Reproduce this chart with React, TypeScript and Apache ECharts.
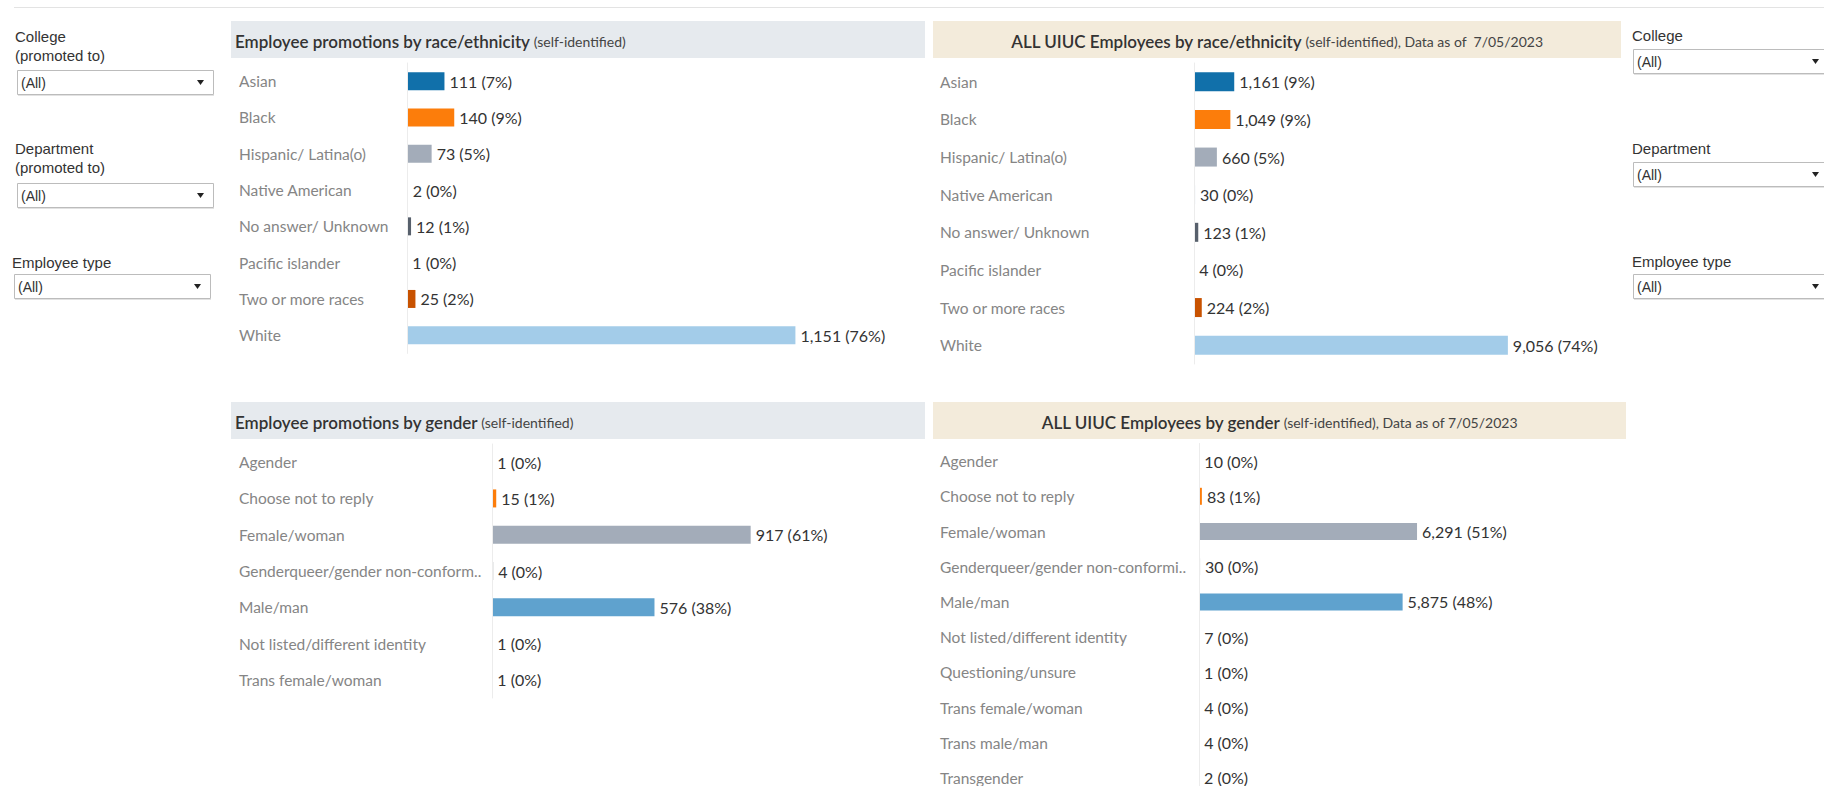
import React, { useEffect, useRef } from "react";
import * as echarts from "echarts";

// ---------- data ----------
const raceCategories = [
  "Asian",
  "Black",
  "Hispanic/ Latina(o)",
  "Native American",
  "No answer/ Unknown",
  "Pacific islander",
  "Two or more races",
  "White",
];
const racePromotions = [111, 140, 73, 2, 12, 1, 25, 1151];
const raceAllEmployees = [1161, 1049, 660, 30, 123, 4, 224, 9056];
const raceColors = ["#1170aa", "#fc7d0b", "#a3acb9", "#5fa2ce", "#57606c", "#7b848f", "#c85200", "#a3cce9"];

const genderPromoCategories = [
  "Agender",
  "Choose not to reply",
  "Female/woman",
  "Genderqueer/gender non-conform..",
  "Male/man",
  "Not listed/different identity",
  "Trans female/woman",
];
const genderPromotions = [1, 15, 917, 4, 576, 1, 1];
const genderPromoColors = ["#1170aa", "#fc7d0b", "#a3acb9", "#57606c", "#5fa2ce", "#c85200", "#7b848f"];

const genderAllCategories = [
  "Agender",
  "Choose not to reply",
  "Female/woman",
  "Genderqueer/gender non-conformi..",
  "Male/man",
  "Not listed/different identity",
  "Questioning/unsure",
  "Trans female/woman",
  "Trans male/man",
  "Transgender",
];
const genderAllEmployees = [10, 83, 6291, 30, 5875, 7, 1, 4, 4, 2];
const genderAllColors = ["#1170aa", "#fc7d0b", "#a3acb9", "#57606c", "#5fa2ce", "#c85200", "#7b848f", "#a3cce9", "#ffbc79", "#c8d0d9"];

const leftFilters = [
  { lines: ["College", "(promoted to)"] },
  { lines: ["Department", "(promoted to)"] },
  { lines: ["Employee type"] },
];
const rightFilters = ["College", "Department", "Employee type"];

// ---------- helpers ----------
const FONT = "Lato, 'Open Sans', sans-serif";
const FILTER_FONT = "'Liberation Sans', Arial, sans-serif";

function fmt(v: number) {
  return v.toLocaleString("en-US");
}

function makeSeries(values: number[], colors: string[], idx: number, barWidth: number) {
  const total = values.reduce((a, b) => a + b, 0);
  return {
    type: "bar",
    xAxisIndex: idx,
    yAxisIndex: idx,
    barWidth,
    z: 2,
    data: values.map((v, i) => ({ value: v, itemStyle: { color: colors[i] } })),
    label: {
      show: true,
      position: "right",
      distance: 5,
      color: "#333333",
      fontFamily: FONT,
      fontSize: 16,
      formatter: (p: any) => `${fmt(p.value)} (${Math.round((p.value / total) * 100)}%)`,
    },
  };
}

function yAxisFor(cats: string[], idx: number, margin: number) {
  return {
    type: "category",
    gridIndex: idx,
    data: cats,
    inverse: true,
    z: 5,
    axisTick: { show: false },
    axisLine: { show: true, lineStyle: { color: "#ececec", width: 1 } },
    axisLabel: {
      interval: 0,
      align: "left",
      margin,
      color: "#858585",
      fontFamily: FONT,
      fontSize: 15.5,
    },
    splitLine: { show: false },
  };
}

function xAxisFor(idx: number, max: number) {
  return {
    type: "value",
    gridIndex: idx,
    min: 0,
    max,
    show: false,
    splitLine: { show: false },
  };
}

function dropdown(x: number, y: number, w: number) {
  const h = 24;
  return [
    {
      type: "rect",
      shape: { x: x + 0.5, y: y + 0.5, width: w, height: h },
      style: { fill: "#ffffff", stroke: "#bcbcbc", lineWidth: 1 },
    },
    {
      type: "line",
      shape: { x1: x + 1, y1: y + h + 1.5, x2: x + w + 1, y2: y + h + 1.5 },
      style: { stroke: "#e2e2e2", lineWidth: 1 },
    },
    {
      type: "text",
      style: {
        text: "(All)",
        x: x + 4,
        y: y + h / 2 + 1,
        fill: "#333333",
        fontFamily: FILTER_FONT,
        fontSize: 14,
        verticalAlign: "middle",
        align: "left",
      },
    },
    {
      type: "polygon",
      shape: {
        points: [
          [x + w - 16, y + h / 2 - 2],
          [x + w - 9, y + h / 2 - 2],
          [x + w - 12.5, y + h / 2 + 3],
        ],
      },
      style: { fill: "#222222" },
    },
  ];
}

function filterLabel(text: string, x: number, y: number) {
  return {
    type: "text",
    style: {
      text,
      x,
      y,
      fill: "#333333",
      fontFamily: FILTER_FONT,
      fontSize: 15,
      verticalAlign: "middle",
      align: "left",
    },
  };
}

function header(x: number, y: number, w: number, fill: string, main: string, sub: string, centered: boolean) {
  return [
    {
      type: "rect",
      shape: { x, y, width: w, height: 37 },
      style: { fill },
    },
    {
      type: "text",
      style: {
        text: `{a|${main}} {b|${sub}}`,
        x: centered ? x + w / 2 : x + 4,
        y: y + 20,
        align: centered ? "center" : "left",
        verticalAlign: "middle",
        rich: {
          a: { fontFamily: FONT, fontSize: 17, fontWeight: 600, fill: "#333333", color: "#333333" },
          b: { fontFamily: FONT, fontSize: 14, fill: "#444444", color: "#444444" },
        },
      },
    },
  ];
}

export default function App() {
  const ref = useRef<HTMLDivElement>(null);

  useEffect(() => {
    if (!ref.current) return;
    const chart = echarts.init(ref.current, undefined, { renderer: "svg" });

    const graphics: any[] = [];
    // top rule
    graphics.push({
      type: "line",
      shape: { x1: 14, y1: 7.5, x2: 1824, y2: 7.5 },
      style: { stroke: "#e3e3e3", lineWidth: 1 },
    });

    // headers
    graphics.push(
      ...header(231, 21, 694, "#e6eaee", "Employee promotions by race/ethnicity", "(self-identified)", false),
      ...header(933, 21, 688, "#f3ebdb", "ALL UIUC Employees by race/ethnicity", "(self-identified), Data as of  7/05/2023", true),
      ...header(231, 402, 694, "#e6eaee", "Employee promotions by gender", "(self-identified)", false),
      ...header(933, 402, 693, "#f3ebdb", "ALL UIUC Employees by gender", "(self-identified), Data as of 7/05/2023", true)
    );

    // left filters
    graphics.push(filterLabel(leftFilters[0].lines[0], 15, 36));
    graphics.push(filterLabel(leftFilters[0].lines[1], 15, 55));
    graphics.push(...dropdown(17, 70, 196));
    graphics.push(filterLabel(leftFilters[1].lines[0], 15, 148));
    graphics.push(filterLabel(leftFilters[1].lines[1], 15, 167));
    graphics.push(...dropdown(17, 183, 196));
    graphics.push(filterLabel(leftFilters[2].lines[0], 12, 262));
    graphics.push(...dropdown(14, 274, 196));

    // right filters
    const rightY = [35, 148, 261];
    const rightBoxY = [49, 162, 274];
    rightFilters.forEach((t, i) => {
      graphics.push(filterLabel(t, 1632, rightY[i]));
      graphics.push(...dropdown(1633, rightBoxY[i], 195));
    });

    const option: any = {
      animation: false,
      backgroundColor: "#ffffff",
      grid: [
        { left: 407, top: 63, width: 518, height: 290.4 },
        { left: 1194, top: 63, width: 427, height: 301 },
        { left: 492, top: 444, width: 433, height: 254 },
        { left: 1199, top: 443.5, width: 427, height: 352 },
      ],
      xAxis: [xAxisFor(0, 1535), xAxisFor(1, 12320), xAxisFor(2, 1535), xAxisFor(3, 12320)],
      yAxis: [
        yAxisFor(raceCategories, 0, 168),
        yAxisFor(raceCategories, 1, 254),
        yAxisFor(genderPromoCategories, 2, 253),
        yAxisFor(genderAllCategories, 3, 259),
      ],
      series: [
        makeSeries(racePromotions, raceColors, 0, 18),
        makeSeries(raceAllEmployees, raceColors, 1, 19),
        makeSeries(genderPromotions, genderPromoColors, 2, 18),
        makeSeries(genderAllEmployees, genderAllColors, 3, 17),
      ],
      graphic: graphics,
    };

    chart.setOption(option);
    return () => chart.dispose();
  }, []);

  return (
    <div
      ref={ref}
      style={{ position: "fixed", left: 0, top: 0, width: 1824, height: 830, background: "#fff" }}
    />
  );
}
